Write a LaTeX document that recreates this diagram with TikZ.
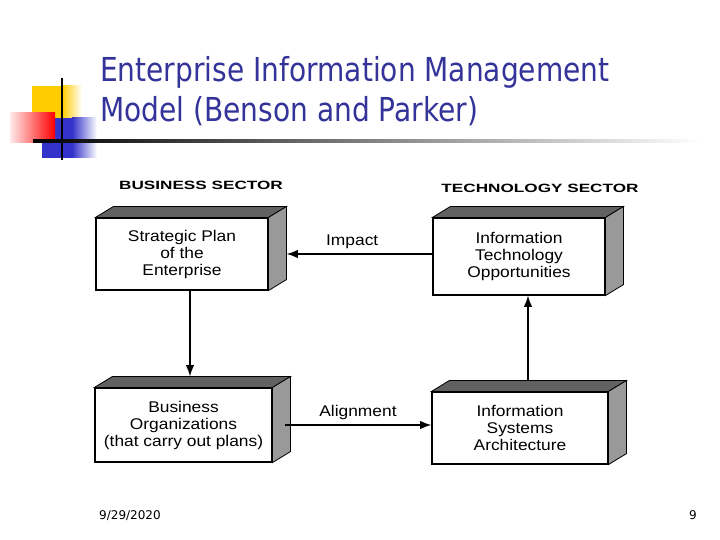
\documentclass[tikz,border=0pt]{standalone}
\usepackage{fontspec}
\setmainfont{Liberation Sans}
\newfontfamily\titlefont[FakeStretch=0.85]{DejaVu Sans}
\newfontfamily\footfont{DejaVu Sans}
\newfontfamily\boxfont[FakeStretch=1.12]{Liberation Sans}
\newfontfamily\sectorfont[FakeStretch=1.43]{Liberation Sans}
\usetikzlibrary{arrows.meta}
\definecolor{TNavy}{HTML}{333399}
\definecolor{TYellow}{HTML}{FFCC00}
\definecolor{TBlue}{HTML}{3333CC}
\definecolor{TRed}{HTML}{FF0000}

\begin{document}
\begin{tikzpicture}[x=1pt,y=-1pt,
  blk/.style={draw,line width=1.1pt,fill=white,align=center,inner sep=0pt,
    font=\boxfont\fontsize{15.5}{17}\selectfont},
  topface/.style={fill=black!62,draw=black,line width=0.8pt},
  sideface/.style={fill=black!40,draw=black,line width=0.8pt},
  a/.style={-{Latex[length=4mm,width=3mm]},line width=1.5pt},
  lbl/.style={font=\boxfont\fontsize{15.5}{17}\selectfont,inner sep=2pt},
  sector/.style={font=\sectorfont\bfseries\fontsize{12}{14}\selectfont},
  ttl/.style={anchor=base west,inner sep=0pt,text=TNavy,
    font=\titlefont\fontsize{33}{40}\selectfont},
  foot/.style={inner sep=0pt,font=\footfont\fontsize{12}{13}\selectfont}
]
  \useasboundingbox (0,0) rectangle (720,540);
  % slide decoration
  \fill[TYellow] (32,86) rectangle (62,118);
  \shade[left color=TYellow,right color=white] (62,86) rectangle (82,118);
  \fill[TBlue] (42,118) rectangle (72,158);
  \shade[left color=TBlue,right color=white] (72,118) rectangle (97,158);
  \shade[left color=TRed!8,right color=TRed] (10,113) rectangle (55,143);
  \draw[line width=2pt] (62,78) -- (62,160);
  \shade[left color=black,right color=white] (33,140) rectangle (700,143);

  \node[ttl] (title1) at (100,82) {Enterprise Information Management};
  \node[ttl] (title2) at (100,122) {Model (Benson and Parker)};

  \node[sector] (bsector) at (201,185) {BUSINESS SECTOR};
  \node[sector] (tsector) at (540,188) {TECHNOLOGY SECTOR};

  \node[blk,minimum width=172pt,minimum height=72pt] (plan) at (182,254)
    {Strategic Plan\\of the\\Enterprise};
  \node[blk,minimum width=172pt,minimum height=77pt] (itopp) at (519,256.5)
    {Information\\Technology\\Opportunities};
  \node[blk,minimum width=177pt,minimum height=74pt] (orgs) at (183.5,425)
    {Business\\Organizations\\(that carry out plans)};
  \node[blk,minimum width=176pt,minimum height=72pt] (isarch) at (520,428)
    {Information\\Systems\\Architecture};

  \foreach \n in {plan,itopp,orgs,isarch}{
    \filldraw[topface] (\n.north west) -- ++(18,-11)
      -- ([shift={(18,-11)}]\n.north east) -- (\n.north east) -- cycle;
    \filldraw[sideface] (\n.north east) -- ++(18,-11)
      -- ([shift={(18,-11)}]\n.south east) -- (\n.south east) -- cycle;
  }

  \draw[a] (itopp.west |- plan.east) --
    node[lbl,pos=0.55,above=3pt]{Impact} ([xshift=18pt]plan.east);
  \draw[a] ([xshift=12pt]orgs.east) --
    node[lbl,midway,above=3pt]{Alignment} (isarch.west |- orgs.east);

  \coordinate (planfoot) at ([xshift=8pt]plan.south);
  \coordinate (orgstop) at ([yshift=11pt]orgs.north);
  \draw[a] (planfoot) -- (planfoot |- orgstop);
  \coordinate (isatop) at ([xshift=8pt,yshift=11pt]isarch.north);
  \draw[a] (isatop) -- (isatop |- itopp.south);

  \node[foot,anchor=base west] (date) at (99,519) {9/29/2020};
  \node[foot,anchor=base east] (pgnum) at (697,519) {9};
\end{tikzpicture}
\end{document}
